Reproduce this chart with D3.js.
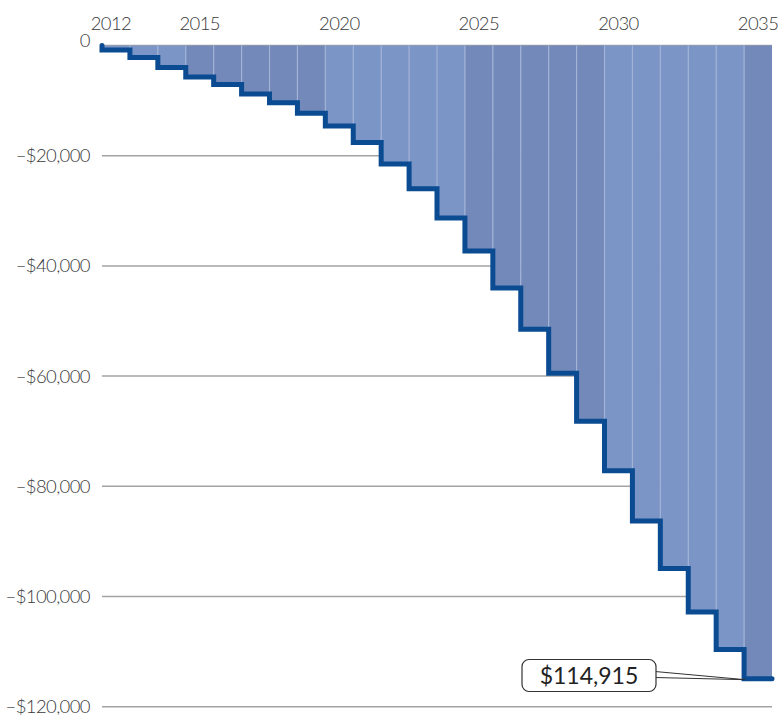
<!DOCTYPE html>
<html>
<head>
<meta charset="utf-8">
<script src="https://cdn.jsdelivr.net/npm/d3@7/dist/d3.min.js"></script>
<style>
  html, body { margin: 0; padding: 0; background: #ffffff; }
  svg { display: block; }
  text { font-family: "Lato", "Open Sans", sans-serif; font-weight: 300; fill: #3a3a3a; }
</style>
</head>
<body>
<script>
// Cumulative balance by year (dollars)
const years = [2012, 2013, 2014, 2015, 2016, 2017, 2018, 2019, 2020, 2021, 2022, 2023,
               2024, 2025, 2026, 2027, 2028, 2029, 2030, 2031, 2032, 2033, 2034, 2035];
const balance = [-800, -2200, -4000, -5700, -7100, -8800, -10400, -12300, -14600, -17600,
                 -21500, -26000, -31300, -37300, -44000, -51500, -59500, -68200, -77200,
                 -86300, -94900, -102800, -109600, -114915];
const yearTicks = [2012, 2015, 2020, 2025, 2030, 2035];
const valueTicks = [0, -20000, -40000, -60000, -80000, -100000, -120000];
const calloutLabel = "$114,915";

const W = 779, H = 717;
const svg = d3.select("body").append("svg").attr("width", W).attr("height", H);

const x = d3.scaleBand().domain(years).range([102, 772]).padding(0);
const y = d3.scaleLinear().domain([-120000, 0]).range([706.7, 45.5]);
const bw = x.bandwidth();

const fmt = v => v === 0 ? "0" : "\u2013$" + d3.format(",")(Math.abs(v));

// horizontal gridlines
svg.append("g").selectAll("line").data(valueTicks).join("line")
  .attr("x1", 102).attr("x2", 772)
  .attr("y1", d => y(d)).attr("y2", d => y(d))
  .attr("stroke", "#a3a3a3").attr("stroke-width", 1.5);

// value labels
svg.append("g").selectAll("text").data(valueTicks).join("text")
  .attr("x", 90)
  .attr("y", d => y(d) + (d === 0 ? -5 : 0))
  .attr("dy", "0.35em")
  .attr("text-anchor", "end")
  .attr("font-size", 18.5)
  .attr("letter-spacing", -0.6)
  .text(fmt);

// year labels
svg.append("g").selectAll("text").data(yearTicks).join("text")
  .attr("x", d => x(d) + bw / 2 + (d === 2012 ? -5 : 0))
  .attr("y", 30)
  .attr("text-anchor", "middle")
  .attr("font-size", 18.5)
  .attr("letter-spacing", -0.6)
  .text(d => d);

// yearly columns, shaded by half-decade
const data = years.map((yr, i) => ({ year: yr, value: balance[i] }));
svg.append("g").selectAll("rect").data(data).join("rect")
  .attr("x", d => x(d.year))
  .attr("width", bw)
  .attr("y", y(0))
  .attr("height", d => y(d.value) - y(0))
  .attr("fill", d => Math.floor(d.year / 5) % 2 === 0 ? "#7b95c6" : "#7289ba");

// thin separators between columns
svg.append("g").selectAll("line").data(data.slice(0, -1)).join("line")
  .attr("x1", d => x(d.year) + bw).attr("x2", d => x(d.year) + bw)
  .attr("y1", y(0)).attr("y2", d => y(d.value))
  .attr("stroke", "#a2b3d6").attr("stroke-width", 1.2);

// stepped balance line
const pts = [[x(years[0]), y(0)]];
data.forEach(d => {
  pts.push([x(d.year), y(d.value)]);
  pts.push([x(d.year) + bw, y(d.value)]);
});
svg.append("path")
  .attr("d", d3.line()(pts))
  .attr("fill", "none")
  .attr("stroke", "#0a4b92")
  .attr("stroke-width", 5)
  .attr("stroke-linecap", "round")
  .attr("stroke-linejoin", "miter");

// callout for the final value
const last = data[data.length - 1];
const tipX = x(last.year) + 1, tipY = y(last.value) + 1;
const bx = 522, by = 659.5, bWidth = 134, bHeight = 32;
svg.append("path")
  .attr("d", `M${bx + bWidth - 1},${by + 12} L${tipX},${tipY} L${bx + bWidth - 1},${by + 18} Z`)
  .attr("fill", "#ffffff").attr("stroke", "#333333").attr("stroke-width", 1)
  .attr("stroke-linejoin", "miter");
svg.append("rect")
  .attr("x", bx).attr("y", by).attr("width", bWidth).attr("height", bHeight)
  .attr("rx", 7).attr("ry", 7)
  .attr("fill", "#ffffff").attr("stroke", "#333333").attr("stroke-width", 1.2);
svg.append("text")
  .attr("x", bx + bWidth / 2).attr("y", by + bHeight / 2)
  .attr("dy", "0.36em")
  .attr("text-anchor", "middle")
  .attr("font-size", 23)
  .style("font-weight", 400)
  .style("fill", "#222222")
  .text(calloutLabel);
</script>
</body>
</html>
